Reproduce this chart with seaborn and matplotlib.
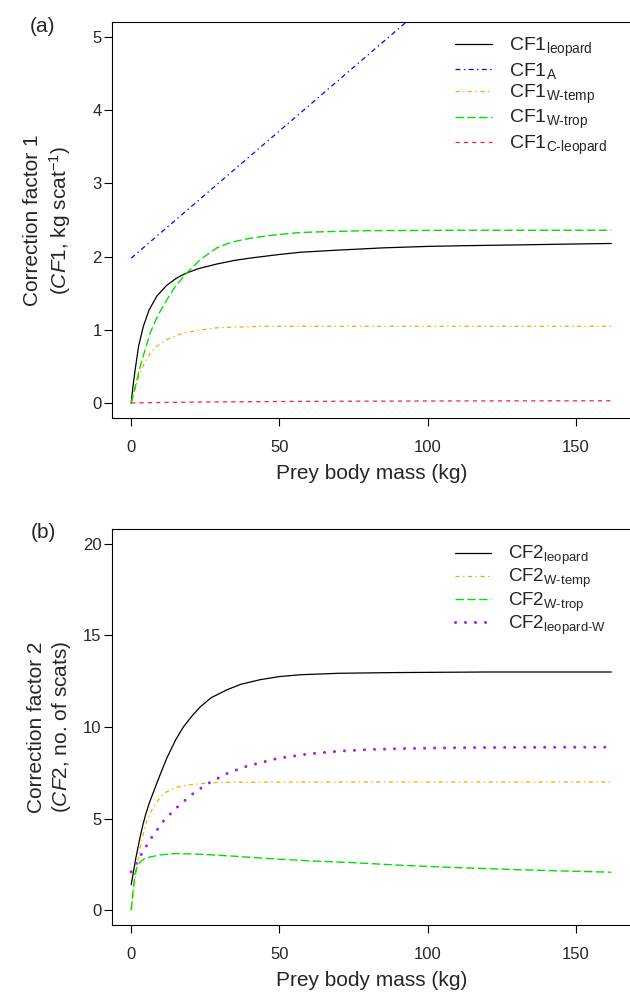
import matplotlib
matplotlib.use("Agg")
import matplotlib.pyplot as plt
import numpy as np
import pandas as pd
import seaborn as sns

# ---- panel (a): correction factor 1 ----
x_leo_a = [0, 0.5, 1.3, 2.5, 4.1, 6, 8.6, 12, 15.4, 18.8, 23, 28.9, 35, 40, 50, 57, 70, 85, 100, 113, 130, 145, 162]
y_leo_a = [0, 0.2, 0.45, 0.78, 1.05, 1.27, 1.46, 1.61, 1.71, 1.78, 1.84, 1.90, 1.95, 1.98, 2.03, 2.06, 2.09, 2.12, 2.14, 2.15, 2.16, 2.17, 2.18]
x_A = [0, 162]
y_A = [1.98, 7.6]
x_wtemp_a = [0, 1.5, 3, 4.5, 6.4, 8.6, 12, 17.6, 23.3, 28.9, 34.5, 45, 80, 120, 162]
y_wtemp_a = [0, 0.22, 0.41, 0.56, 0.68, 0.78, 0.87, 0.96, 1.0, 1.03, 1.04, 1.05, 1.05, 1.05, 1.05]
x_wtrop_a = [0, 3, 6.4, 9, 12, 15, 18.8, 23.3, 28.9, 34, 40, 47, 57, 65, 80, 110, 162]
y_wtrop_a = [0, 0.5, 0.96, 1.2, 1.41, 1.6, 1.78, 1.96, 2.12, 2.2, 2.25, 2.29, 2.33, 2.34, 2.355, 2.36, 2.36]
x_cleo = [0, 10, 30, 60, 100, 162]
y_cleo = [0.005, 0.012, 0.02, 0.027, 0.032, 0.035]

# ---- panel (b): correction factor 2 ----
x_leo_b = [0, 1.5, 3, 4, 5, 6.2, 7.5, 8.8, 10, 12, 15, 17.6, 20.5, 23.3, 27, 32.3, 37, 43.5, 50, 57, 70, 90, 120, 162]
y_leo_b = [1.4, 2.8, 4.0, 4.7, 5.3, 5.9, 6.45, 7.0, 7.5, 8.3, 9.3, 10.0, 10.6, 11.1, 11.6, 12.03, 12.33, 12.58, 12.75, 12.85, 12.93, 12.97, 13.0, 13.0]
x_wtemp_b = [0, 1, 1.9, 3, 4.1, 5.5, 7.5, 10, 12, 15, 18.8, 26.7, 35, 80, 162]
y_wtemp_b = [0, 1.3, 2.37, 3.4, 4.19, 5.0, 5.65, 6.2, 6.47, 6.7, 6.83, 6.96, 6.99, 7.0, 7.0]
x_wtrop_b = [0, 0.6, 1.3, 2, 3, 4.5, 6.4, 10, 15.4, 23.3, 35, 45.8, 60, 75, 90.8, 110, 130, 145, 162]
y_wtrop_b = [0, 1.0, 2.0, 2.4, 2.64, 2.82, 2.91, 3.03, 3.1, 3.06, 2.95, 2.83, 2.7, 2.6, 2.46, 2.33, 2.22, 2.15, 2.08]
x_leoW = [0, 3.6, 7, 11.1, 16, 21.3, 26.9, 33.2, 39.6, 49.5, 59.7, 69.9, 80.2, 90.4, 110, 130, 162]
y_leoW = [2.1, 3.1, 4.0, 4.92, 5.7, 6.43, 7.01, 7.53, 7.89, 8.29, 8.53, 8.68, 8.77, 8.82, 8.87, 8.89, 8.9]

sns.set_theme(style="ticks")
plt.rcParams["font.family"] = ["Liberation Sans", "DejaVu Sans"]
plt.rcParams["mathtext.fontset"] = "custom"
plt.rcParams["mathtext.rm"] = "Liberation Sans"
plt.rcParams["mathtext.it"] = "Liberation Sans:italic"
plt.rcParams["mathtext.bf"] = "Liberation Sans:bold"
plt.rcParams["lines.scale_dashes"] = False

W, H = 630, 993
fig = plt.figure(figsize=(W / 100, H / 100), dpi=100)
ax_w = 174.96 * 2.964 / W
ax_a = fig.add_axes([112 / W, 1 - 418 / H, ax_w, 396 / H])
ax_b = fig.add_axes([112 / W, 1 - 925 / H, ax_w, 396 / H])

styles = {
    "black": dict(color="black", lw=0.9, linestyle="-"),
    "blue": dict(color="#0000FF", lw=0.9, linestyle=(0, (3.5, 2.5, 1, 2.5))),
    "orange": dict(color="#FFA500", lw=0.9, linestyle=(0, (3, 2.5, 1, 2.5))),
    "green": dict(color="#00E000", lw=1.0, linestyle=(0, (6, 2.5))),
    "red": dict(color="#FF2020", lw=0.9, linestyle=(0, (3, 3))),
    "purple": dict(color="#A020F0", lw=2.2, linestyle=(0, (0.01, 7.2)),
                   dash_capstyle="round"),
}


def draw(ax, x, y, style, label):
    df = pd.DataFrame({"x": x, "y": y})
    sns.lineplot(data=df, x="x", y="y", ax=ax, label=label, sort=False,
                 estimator=None, **styles[style])


draw(ax_a, x_leo_a, y_leo_a, "black", r"CF1$_\mathrm{leopard}$")
draw(ax_a, x_A, y_A, "blue", r"CF1$_\mathrm{A}$")
draw(ax_a, x_wtemp_a, y_wtemp_a, "orange", r"CF1$_\text{W-temp}$")
draw(ax_a, x_wtrop_a, y_wtrop_a, "green", r"CF1$_\text{W-trop}$")
draw(ax_a, x_cleo, y_cleo, "red", r"CF1$_\text{C-leopard}$")

draw(ax_b, x_leo_b, y_leo_b, "black", r"CF2$_\mathrm{leopard}$")
draw(ax_b, x_wtemp_b, y_wtemp_b, "orange", r"CF2$_\text{W-temp}$")
draw(ax_b, x_wtrop_b, y_wtrop_b, "green", r"CF2$_\text{W-trop}$")
draw(ax_b, x_leoW, y_leoW, "purple", r"CF2$_\text{leopard-W}$")

ax_a.set_ylim(-0.2, 5.2)
ax_a.set_yticks([0, 1, 2, 3, 4, 5])
ax_b.set_ylim(-0.8, 20.8)
ax_b.set_yticks([0, 5, 10, 15, 20])

ylabels = ["Correction factor 1\n($\\mathit{CF1}$, kg scat$^{-1}$)",
           "Correction factor 2\n($\\mathit{CF}$2, no. of scats)"]
legend_opts = [(ax_a, ylabels[0], 36, 14, 0.1), (ax_b, ylabels[1], 544, 13.5, 0.0)]
for ax, yl, anchor, lfs, lsp in legend_opts:
    ax.set_xlim(-6.48, 168.48)
    ax.set_xticks([0, 50, 100, 150])
    ax.set_xlabel("Prey body mass (kg)", fontsize=15, labelpad=6)
    ax.set_ylabel(yl, fontsize=15, linespacing=1.25)
    ax.yaxis.set_label_coords(-0.075, 0.5)
    ax.tick_params(axis="both", labelsize=12, length=6, width=0.8, color="black")
    ax.tick_params(axis="x", pad=10)
    ax.tick_params(axis="y", pad=1.5)
    for s in ax.spines.values():
        s.set_linewidth(0.8)
        s.set_color("black")
    ax.legend(loc="upper left", bbox_to_anchor=(455 / W, 1 - anchor / H),
              bbox_transform=fig.transFigure, frameon=False, fontsize=lfs,
              handlelength=1.9, handletextpad=0.9, labelspacing=lsp,
              borderpad=0, borderaxespad=0)

fig.text(43 / W, 1 - 26 / H, "(a)", fontsize=15, ha="center", va="center")
fig.text(43 / W, 1 - 533 / H, "(b)", fontsize=15, ha="center", va="center")

fig.savefig("out.png", dpi=100)
